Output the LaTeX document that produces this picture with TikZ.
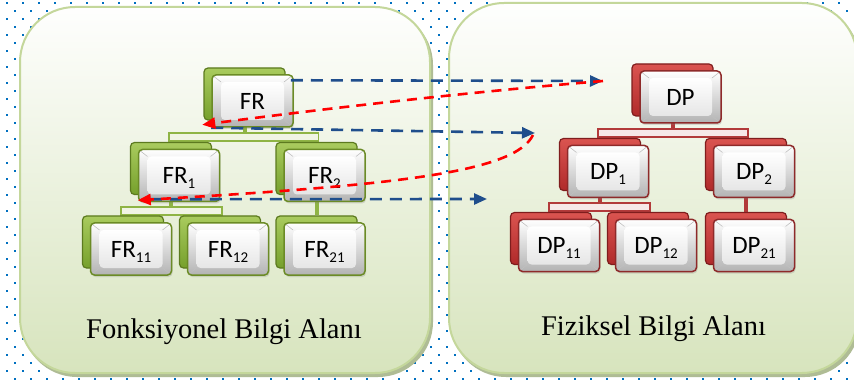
\documentclass[tikz,border=0pt]{standalone}
\usepackage{fontspec}
\setmainfont{Liberation Serif}
\newfontfamily\boxfont{Carlito}
\usetikzlibrary{arrows.meta,calc,shadows}
\definecolor{dotblue}{HTML}{0070C0}
\definecolor{panfill}{HTML}{D7E4BD}
\definecolor{panline}{HTML}{C4D79B}
\definecolor{panshadow}{HTML}{AFBC95}
\definecolor{gtop}{HTML}{A9CB5E}
\definecolor{gbot}{HTML}{76A02C}
\definecolor{gline}{HTML}{5C7A1F}
\definecolor{gfront}{HTML}{6B8B26}
\definecolor{gconn}{HTML}{8FB445}
\definecolor{glight}{HTML}{F0F4E4}
\definecolor{rtop}{HTML}{DA5450}
\definecolor{rbot}{HTML}{B02A2A}
\definecolor{rline}{HTML}{7F1D1D}
\definecolor{rfront}{HTML}{8E2A2A}
\definecolor{rconn}{HTML}{B23A3A}
\definecolor{rlight}{HTML}{F6E8E8}
\definecolor{arrblue}{HTML}{1F4E8C}
\definecolor{arrred}{HTML}{FF0000}
\pgfdeclarelayer{pan}
\pgfdeclarelayer{conn}
\pgfsetlayers{pan,conn,main}
\newcommand\sbs[1]{\raisebox{-5pt}{\fontsize{15}{15}\selectfont #1}}
\tikzset{
  frontbox/.style={draw=#1, line width=1.5pt, rounded corners=4pt,
    minimum width=81pt, minimum height=52pt, inner sep=0pt,
    text height=17pt, text depth=0pt,
    font=\boxfont\fontsize{25}{25}\selectfont,
    drop shadow={opacity=0.25, shadow xshift=1pt, shadow yshift=-2pt},
    path picture={
      \shade[top color=white, bottom color=black!30]
        (path picture bounding box.south west) rectangle (path picture bounding box.north east);
      \coordinate (pA) at ([xshift=9pt,yshift=7pt]path picture bounding box.south west);
      \coordinate (pB) at ([xshift=-9pt,yshift=-7pt]path picture bounding box.north east);
      \shade[top color=white, bottom color=black!10] (pA) rectangle (pB);
      \draw[black!25, line width=0.6pt]
        (path picture bounding box.south west) -- (pA)
        (path picture bounding box.north east) -- (pB)
        (path picture bounding box.north west) -- (pA |- pB)
        (path picture bounding box.south east) -- (pB |- pA);
    }},
  gback/.style={draw=gline, line width=1.2pt, rounded corners=4pt,
    minimum width=81pt, minimum height=52pt, inner sep=0pt,
    top color=gtop, bottom color=gbot},
  rback/.style={draw=rline, line width=1.2pt, rounded corners=4pt,
    minimum width=81pt, minimum height=52pt, inner sep=0pt,
    top color=rtop, bottom color=rbot},
  gstub/.style={draw=gconn, line width=4pt},
  rstub/.style={draw=rconn, line width=4pt},
  gbar/.style={draw=gconn, line width=1.6pt, fill=glight},
  rbar/.style={draw=rconn, line width=1.6pt, fill=rlight},
  panel/.style={rounded corners=55pt},
  barrow/.style={draw=arrblue, line width=2.6pt, dash pattern=on 12pt off 8pt,
    -{Triangle[length=13pt,width=11pt]}},
  rarrow/.style={draw=arrred, line width=2.6pt, dash pattern=on 10pt off 7pt,
    -{Triangle[length=13pt,width=11pt]}},
  lbl/.style={font=\fontsize{28.5}{30}\selectfont, anchor=base, inner sep=0pt}
}
\newcommand\gbox[4]{\node[gback] (#1b) at ({#2-8},{#3-7}) {};
  \node[frontbox=gfront] (#1) at (#2,#3) {#4};}
\newcommand\rbox[4]{\node[rback] (#1b) at ({#2-8},{#3-7}) {};
  \node[frontbox=rfront] (#1) at (#2,#3) {#4};}
\begin{document}
\begin{tikzpicture}[x=1pt,y=-1pt]
\useasboundingbox (0,0) rectangle (854,382);
\begin{pgfonlayer}{pan}
  \fill[white] (0,0) rectangle (854,382);
  \foreach \j in {0,2,...,46} {
    \foreach \i in {0,2,...,106} {
      \fill[dotblue] ({6+8*\i},{2+8*\j}) rectangle ++(2,2);
    }
  }
  \foreach \j in {1,3,...,47} {
    \foreach \i in {1,3,...,105} {
      \fill[dotblue] ({6+8*\i},{2+8*\j}) rectangle ++(2,2);
    }
  }
  % panels
  \fill[panshadow, panel] (22,10) rectangle (433,377);
  \shade[panel, top color=white!98!panfill, middle color=white!75!panfill, bottom color=panfill]
    (20,7) rectangle (430,373);
  \draw[panline, line width=2pt, panel] (20,7) rectangle (430,373);
  \fill[panshadow, panel] (451,6) rectangle (860,377);
  \shade[panel, top color=white!98!panfill, middle color=white!75!panfill, bottom color=panfill]
    (449,3) rectangle (857,373);
  \draw[panline, line width=2pt, panel] (449,3) rectangle (857,373);
\end{pgfonlayer}

% functional tree
\gbox{FR}{252.5}{101}{FR}
\gbox{FRone}{179}{175.5}{FR\sbs{1}}
\gbox{FRtwo}{324.5}{175.5}{FR\sbs{2}}
\gbox{FRoo}{131}{249}{FR\sbs{11}}
\gbox{FRot}{228}{249}{FR\sbs{12}}
\gbox{FRto}{324.5}{249}{FR\sbs{21}}
% physical tree
\rbox{DP}{680.5}{97}{DP}
\rbox{DPone}{608}{171.5}{DP\sbs{1}}
\rbox{DPtwo}{754}{171.5}{DP\sbs{2}}
\rbox{DPoo}{559}{245.5}{DP\sbs{11}}
\rbox{DPot}{656}{245.5}{DP\sbs{12}}
\rbox{DPto}{754}{245.5}{DP\sbs{21}}

\begin{pgfonlayer}{conn}
  % FR level 1
  \path (FRb.south |- FR.south) ++(0,9) coordinate (g1);
  \draw[gstub] (FRb.south) -- (g1);
  \draw[gstub] (FRoneb.north |- g1) -- (FRoneb.north);
  \draw[gstub] (FRtwob.north |- g1) -- (FRtwob.north);
  \draw[gbar] ($(FRoneb.north |- g1)+(-2,-4)$) rectangle ($(FRtwob.north |- g1)+(2,4)$);
  % FR1 level 2
  \path (FRoneb.south |- FRone.south) ++(0,9) coordinate (g2);
  \draw[gstub] (FRoneb.south) -- (g2);
  \draw[gstub] (FRoob.north |- g2) -- (FRoob.north);
  \draw[gstub] (FRotb.north |- g2) -- (FRotb.north);
  \draw[gbar] ($(FRoob.north |- g2)+(-2,-4)$) rectangle ($(FRotb.north |- g2)+(2,4)$);
  % FR2 -> FR21
  \draw[gstub] (FRtwob.south) -- (FRtob.north);
  % DP level 1
  \path (DPb.south |- DP.south) ++(0,9) coordinate (r1);
  \draw[rstub] (DPb.south) -- (r1);
  \draw[rstub] (DPoneb.north |- r1) -- (DPoneb.north);
  \draw[rstub] (DPtwob.north |- r1) -- (DPtwob.north);
  \draw[rbar] ($(DPoneb.north |- r1)+(-2,-4)$) rectangle ($(DPtwob.north |- r1)+(2,4)$);
  % DP1 level 2
  \path (DPoneb.south |- DPone.south) ++(0,9) coordinate (r2);
  \draw[rstub] (DPoneb.south) -- (r2);
  \draw[rstub] (DPoob.north |- r2) -- (DPoob.north);
  \draw[rstub] (DPotb.north |- r2) -- (DPotb.north);
  \draw[rbar] ($(DPoob.north |- r2)+(-2,-4)$) rectangle ($(DPotb.north |- r2)+(2,4)$);
  % DP2 -> DP21
  \draw[rstub] (DPtwob.south) -- (DPtob.north);
\end{pgfonlayer}

% labels
\node[lbl] (lf) at (224,338) {Fonksiyonel Bilgi Alanı};
\node[lbl] (lp) at (653.5,335) {Fiziksel Bilgi Alanı};

% mapping arrows
\coordinate (e1) at (603,81);
\coordinate (e2) at (535,133);
\coordinate (e3) at (487,199);
\draw[barrow] ([shift={(-3,6)}]FR.north east) -- (e1);
\draw[barrow] (FR.south west) -- (e2);
\draw[barrow] ([shift={(12,-3)}]FRone.south west) -- (e3);
\draw[rarrow] (e1) .. controls (470,92) and (330,108) .. ([shift={(-9,-3)}]FR.south west);
\draw[rarrow] ([shift={(-2,2)}]e2) .. controls (515,172) and (400,185) .. ([shift={(0,-2)}]FRone.south west);
\end{tikzpicture}
\end{document}
